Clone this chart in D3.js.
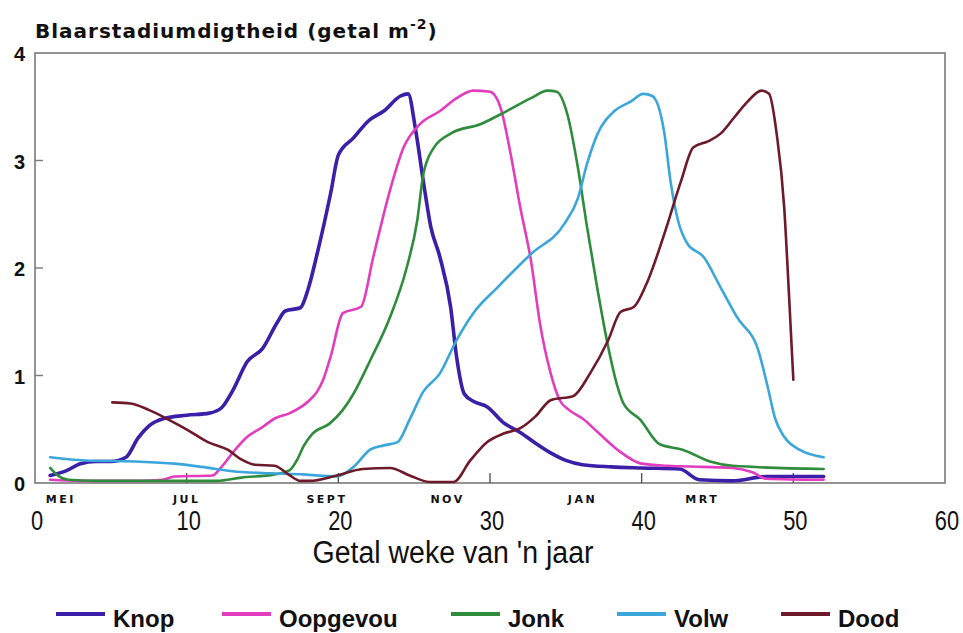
<!DOCTYPE html>
<html lang="af">
<head>
<meta charset="utf-8">
<title>Blaarstadiumdigtheid</title>
<script src="https://cdn.jsdelivr.net/npm/d3@7"></script>
<style>
  body { margin: 0; background: #fff; }
  svg { display: block; }
</style>
</head>
<body>
<script>
// weekly readings [week, density] per leaf stage
var knop = [[1,0.07],[2,0.11],[3,0.18],[4,0.2],[5,0.2],[6,0.24],[6.8,0.42],[7.5,0.53],[8.5,0.6],[10,0.63],[11.5,0.65],[12.3,0.7],[13,0.85],[14,1.13],[15,1.25],[16,1.5],[16.5,1.6],[17.5,1.63],[18,1.8],[18.6,2.13],[19.5,2.7],[20,3.05],[21,3.21],[22,3.37],[23,3.46],[24.1,3.6],[24.6,3.62],[25.1,3.28],[25.6,2.81],[26.1,2.38],[26.7,2.1],[27.4,1.64],[27.8,1.17],[28.3,0.83],[28.9,0.76],[29.8,0.71],[30.9,0.56],[32,0.47],[33,0.37],[34,0.28],[35,0.21],[36.1,0.17],[38,0.15],[40,0.14],[42.5,0.13],[43.8,0.03],[46,0.02],[48.2,0.06],[52,0.06]];
var oopgevou = [[1,0.03],[3,0.02],[5,0.02],[7,0.02],[8.4,0.03],[9.2,0.06],[11.7,0.07],[12.3,0.15],[13.2,0.31],[14,0.43],[15,0.52],[15.8,0.6],[16.8,0.65],[18.1,0.77],[18.6,0.85],[19,0.96],[19.5,1.18],[20.3,1.58],[21.5,1.64],[22.3,2.1],[23.4,2.72],[24.3,3.12],[25.4,3.34],[26.7,3.46],[27.8,3.58],[28.9,3.65],[30,3.64],[30.7,3.49],[31.4,3.03],[32,2.56],[32.7,2.07],[33.3,1.48],[34,1.02],[34.6,0.77],[35.2,0.68],[36.1,0.6],[37.2,0.46],[38.4,0.31],[40,0.18],[41.7,0.16],[44,0.15],[46,0.14],[47.3,0.1],[48.2,0.04],[52,0.03]];
var jonk = [[1,0.14],[1.5,0.07],[2.2,0.03],[4,0.02],[8,0.02],[12,0.02],[13.6,0.05],[15.8,0.08],[16.8,0.12],[17.3,0.22],[17.7,0.34],[18.3,0.46],[19.4,0.55],[20.3,0.68],[21,0.83],[22.1,1.14],[23.4,1.54],[24.5,2.0],[25.2,2.44],[25.6,2.87],[26.3,3.12],[27.4,3.25],[29.4,3.34],[31.1,3.46],[32.7,3.58],[33.8,3.65],[34.4,3.64],[35.1,3.43],[35.8,2.93],[36.4,2.38],[37.1,1.79],[37.8,1.26],[38.4,0.9],[38.8,0.74],[39.9,0.59],[41.2,0.36],[42.7,0.31],[44.5,0.2],[46,0.16],[52,0.13]];
var volw = [[1,0.24],[3.3,0.21],[6.6,0.2],[9.2,0.18],[11,0.15],[13,0.11],[15.5,0.09],[17.7,0.08],[19.9,0.06],[21,0.15],[22.1,0.31],[23,0.35],[23.9,0.38],[24.7,0.59],[25.6,0.85],[26.7,1.02],[27.8,1.33],[28.9,1.58],[30.5,1.82],[32.7,2.13],[34.9,2.41],[35.8,2.65],[36.4,2.97],[37.1,3.25],[38.2,3.46],[39.3,3.55],[40.1,3.62],[40.7,3.6],[41.5,3.25],[41.9,2.81],[42.4,2.44],[43,2.23],[44.1,2.1],[45.2,1.82],[46.3,1.54],[47.7,1.23],[48.3,0.9],[48.8,0.6],[49.4,0.43],[50.4,0.31],[52,0.24]];
var dood = [[5.1,0.75],[6.3,0.74],[7.5,0.68],[8.8,0.59],[10.1,0.49],[11.4,0.38],[12.7,0.31],[13.6,0.22],[14.5,0.17],[15.8,0.16],[16.8,0.07],[17.5,0.02],[18.1,0.02],[19.9,0.07],[21.6,0.13],[23.4,0.14],[24.7,0.07],[26,0.01],[27.6,0.01],[28.7,0.21],[29.8,0.38],[30.9,0.46],[32,0.51],[33,0.62],[34,0.77],[35.5,0.81],[36.6,1.02],[37.8,1.33],[38.6,1.59],[39.5,1.64],[40.4,1.88],[41.5,2.32],[42.6,2.81],[43.4,3.12],[44.4,3.18],[45.2,3.25],[46.1,3.4],[47,3.55],[47.9,3.65],[48.4,3.62],[48.9,3.25],[49.4,2.56],[49.7,1.79],[50,0.96]];

var seriesNames = ["Knop", "Oopgevou", "Jonk", "Volw", "Dood"];
var seriesColors = ["#3b1fa8", "#e23cbf", "#2f8c3d", "#3ba6dc", "#6e1a2a"];
var seriesData = [knop, oopgevou, jonk, volw, dood];

var xTicks = [0, 10, 20, 30, 40, 50, 60];
var yTicks = [0, 1, 2, 3, 4];
var months = ["MEI", "JUL", "SEPT", "NOV", "JAN", "MRT"];
var monthWeeks = [1.7, 10, 19.25, 27.2, 36.1, 44];

var W = 963, H = 633;
var plotLeft = 35, plotRight = 945, plotTop = 53, plotBottom = 483;

var sans = "'Liberation Sans', Arial, Helvetica, sans-serif";
var wide = "'DejaVu Sans', Verdana, sans-serif";

var svg = d3.select("body").append("svg")
  .attr("width", W)
  .attr("height", H);

var x = d3.scaleLinear().domain([0, 60]).range([plotLeft, plotRight]);
var y = d3.scaleLinear().domain([0, 4]).range([plotBottom, plotTop]);

// frame
svg.append("rect")
  .attr("x", x(0)).attr("y", y(4))
  .attr("width", x(60) - x(0)).attr("height", y(0) - y(4))
  .attr("fill", "none").attr("stroke", "#7a7a7a").attr("stroke-width", 1.6);

// inner ticks
svg.selectAll(".ytick").data([1, 2, 3]).enter().append("line")
  .attr("x1", x(0)).attr("x2", x(0) + 8)
  .attr("y1", d => y(d)).attr("y2", d => y(d))
  .attr("stroke", "#7a7a7a").attr("stroke-width", 1.4);

svg.selectAll(".xtick").data([10, 20, 30, 40, 50]).enter().append("line")
  .attr("x1", d => x(d)).attr("x2", d => x(d))
  .attr("y1", y(0)).attr("y2", y(0) - 10)
  .attr("stroke", "#555").attr("stroke-width", 1.4);

// y labels
svg.selectAll(".ylab").data(yTicks).enter().append("text")
  .attr("x", 25).attr("y", d => y(d) + 3)
  .attr("text-anchor", "end")
  .attr("dominant-baseline", "middle")
  .style("font-family", sans).style("font-weight", "bold").style("font-size", "20px")
  .style("fill", "#111")
  .text(d => d);

// x labels (squeezed horizontally, plotter style)
svg.selectAll(".xlab").data(xTicks).enter().append("text")
  .attr("transform", d => "translate(" + (x(d) + 2) + ",530) scale(0.78,1)")
  .attr("text-anchor", "middle")
  .style("font-family", sans).style("font-size", "28px")
  .style("fill", "#111")
  .text(d => d);

// month names under axis
svg.selectAll(".month").data(months).enter().append("text")
  .attr("x", (d, i) => x(monthWeeks[i])).attr("y", 503)
  .attr("text-anchor", "middle")
  .style("font-family", wide).style("font-weight", "bold").style("font-size", "11px")
  .style("letter-spacing", "2.5px")
  .style("fill", "#111")
  .text(d => d);

// title
var title = svg.append("text")
  .attr("x", 35).attr("y", 38)
  .style("font-family", wide).style("font-weight", "bold").style("font-size", "20px")
  .style("letter-spacing", "1px")
  .style("fill", "#111");
title.append("tspan").text("Blaarstadiumdigtheid (getal m");
title.append("tspan").attr("dy", -9).style("font-size", "14px").text("-2");
title.append("tspan").attr("dy", 9).text(")");

// x axis title
svg.append("text")
  .attr("transform", "translate(453,563) scale(0.92,1)")
  .attr("text-anchor", "middle")
  .style("font-family", sans).style("font-size", "31px")
  .style("fill", "#111")
  .text("Getal weke van 'n jaar");

// curves
var line = d3.line()
  .x(d => x(d[0]))
  .y(d => y(d[1]))
  .curve(d3.curveMonotoneX);

svg.selectAll(".serie").data(seriesData).enter().append("path")
  .attr("d", line)
  .attr("fill", "none")
  .attr("stroke", (d, i) => seriesColors[i])
  .attr("stroke-width", (d, i) => i == 0 ? 3.6 : 2.6)
  .attr("stroke-linejoin", "round")
  .attr("stroke-linecap", "round");

// legend
var legendX = [56, 222, 451, 617, 781];
var legend = svg.append("g");
for (var i = 0; i < seriesNames.length; i++) {
  legend.append("line")
    .attr("x1", legendX[i]).attr("x2", legendX[i] + 49)
    .attr("y1", 614).attr("y2", 614)
    .attr("stroke", seriesColors[i]).attr("stroke-width", 4);
  legend.append("text")
    .attr("x", legendX[i] + 57).attr("y", 627)
    .style("font-family", sans).style("font-weight", "bold").style("font-size", "24px")
    .style("fill", "#111")
    .text(seriesNames[i]);
}
</script>
</body>
</html>
